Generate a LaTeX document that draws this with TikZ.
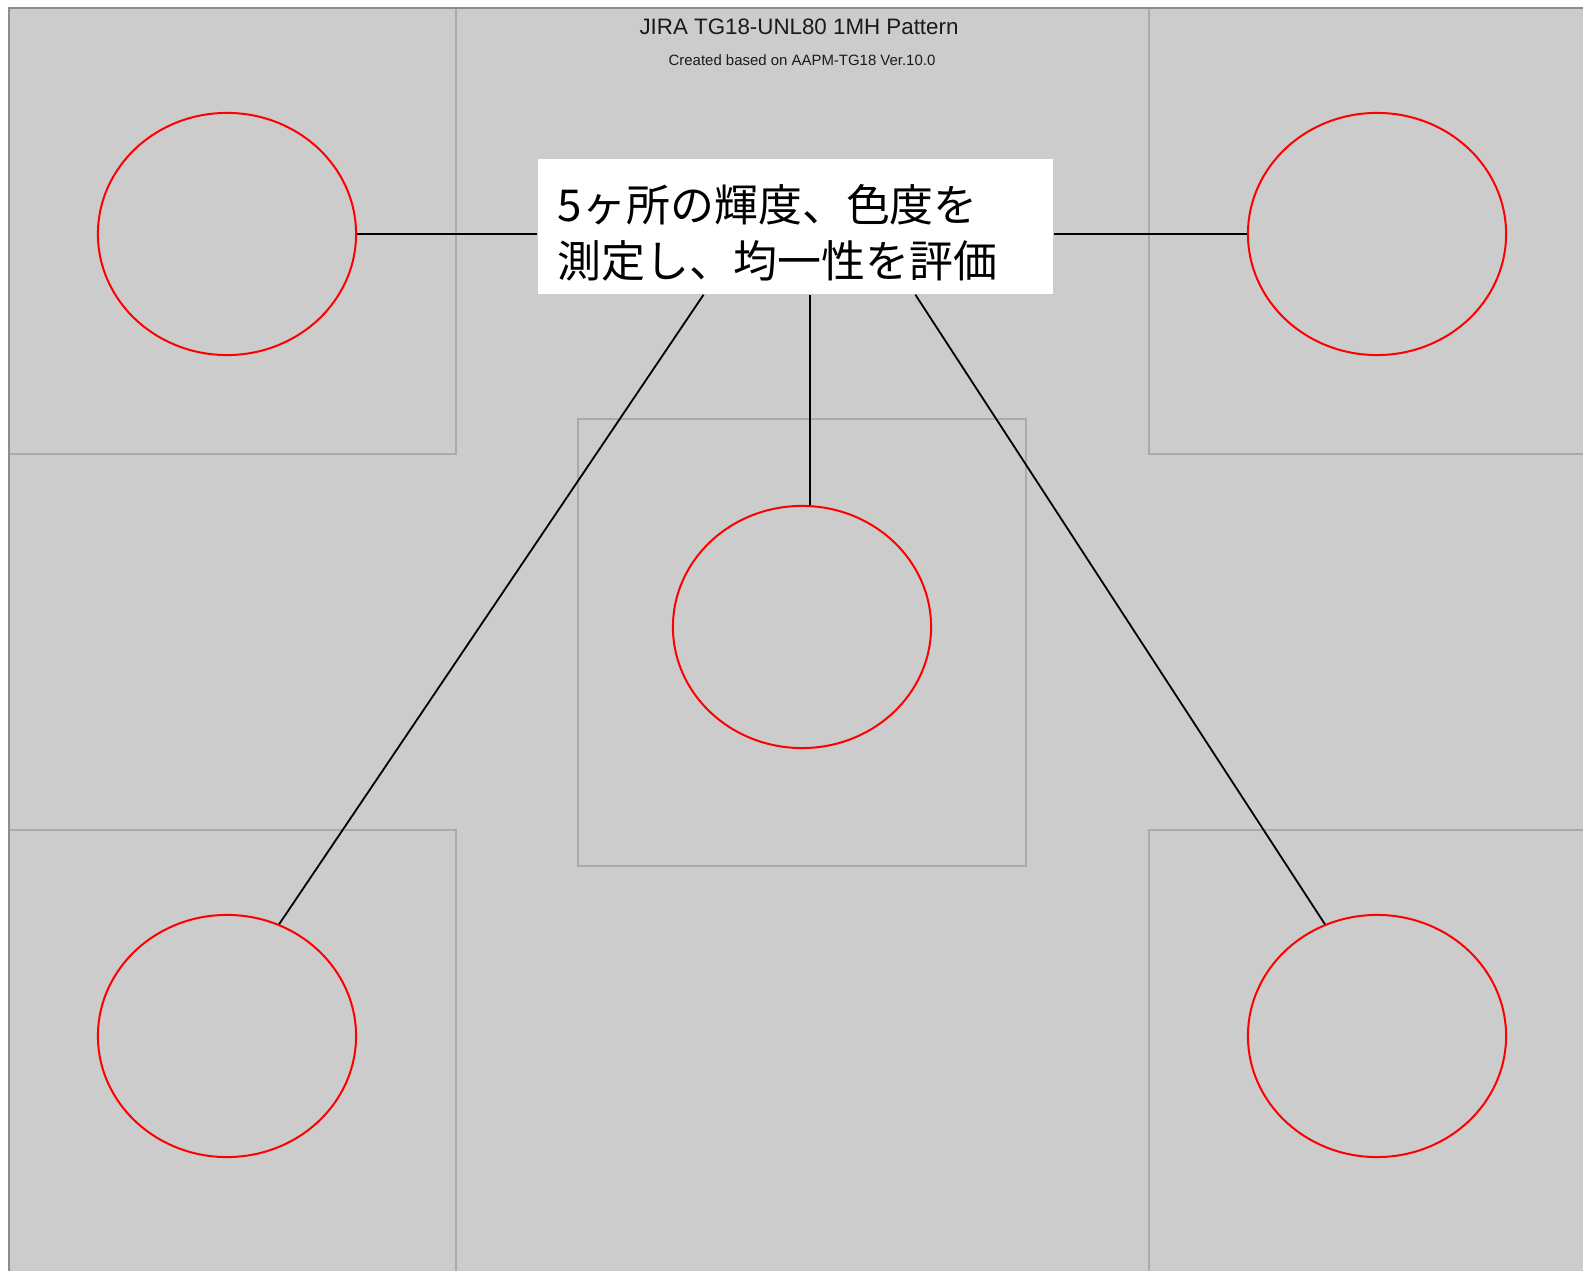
\documentclass[tikz,border=0pt]{standalone}
\usepackage{fontspec}
\setmainfont{Liberation Sans}
\newfontfamily\jpfont{Noto Sans CJK JP}
\usetikzlibrary{shapes.geometric,calc}
\definecolor{bggray}{HTML}{CCCCCC}
\definecolor{edgegray}{HTML}{AAAAAA}
\definecolor{framegray}{HTML}{8C8C8C}
\definecolor{titlegray}{HTML}{1A1A1A}
\begin{document}
\begin{tikzpicture}[x=0.01cm,y=-0.01cm,
  spot/.style={ellipse, draw=red, line width=0.02cm, minimum width=2.58cm, minimum height=2.42cm, inner sep=0pt},
  sqedge/.style={draw=edgegray, line width=0.022cm},
  conn/.style={draw=black, line width=0.018cm},
  lblbox/.style={fill=white, minimum width=5.15cm, minimum height=1.35cm, inner sep=0pt},
  lbltext/.style={anchor=west, inner sep=0pt, align=left, font=\jpfont\fontsize{12.5}{16}\selectfont}]
\useasboundingbox (0,0) rectangle (1583,1271);
\fill[white] (0,0) rectangle (1583,1271);
\fill[bggray] (8,7) rectangle (1583,1271);
% squares
\draw[sqedge] (8,454) -- (456,454) -- (456,7);
\draw[sqedge] (1583,454) -- (1149,454) -- (1149,7);
\draw[sqedge] (8,830) -- (456,830) -- (456,1271);
\draw[sqedge] (1583,830) -- (1149,830) -- (1149,1271);
\draw[sqedge] (578,419) rectangle (1026,866);
% outer frame
\draw[framegray, line width=0.028cm] (9,1271) -- (9,8) -- (1583,8);
% titles
\node[anchor=base, text=titlegray, font=\fontsize{6.35}{7}\selectfont, inner sep=0pt] (title) at (799,35) {JIRA TG18-UNL80 1MH Pattern};
\node[anchor=base, text=titlegray, font=\fontsize{4.25}{5}\selectfont, inner sep=0pt] (sub) at (802,66) {Created based on AAPM-TG18 Ver.10.0};
% spots
\node[spot] (tl) at (227,234) {};
\node[spot] (tr) at (1377,234) {};
\node[spot] (c) at (802,627) {};
\node[spot] (bl) at (227,1036) {};
\node[spot] (br) at (1377,1036) {};
% label
\node[lblbox] (lbl) at (795.5,226.5) {};
\node[lbltext] (lbltxt) at ([xshift=0.2cm,yshift=-0.06cm]lbl.west) {5ヶ所の輝度、色度を\\測定し、均一性を評価};
% connectors
\draw[conn] (tl.east) -- (tl.east -| lbl.west);
\draw[conn] (lbl.east |- tr.west) -- (tr.west);
\draw[conn] ([xshift=0.145cm]lbl.south) -- ([xshift=0.145cm]lbl.south |- c.north);
\draw[conn] ($(lbl.south west)!0.322!(lbl.south east)$) -- (bl.65);
\draw[conn] ($(lbl.south west)!0.732!(lbl.south east)$) -- (br.115);
\end{tikzpicture}
\end{document}
